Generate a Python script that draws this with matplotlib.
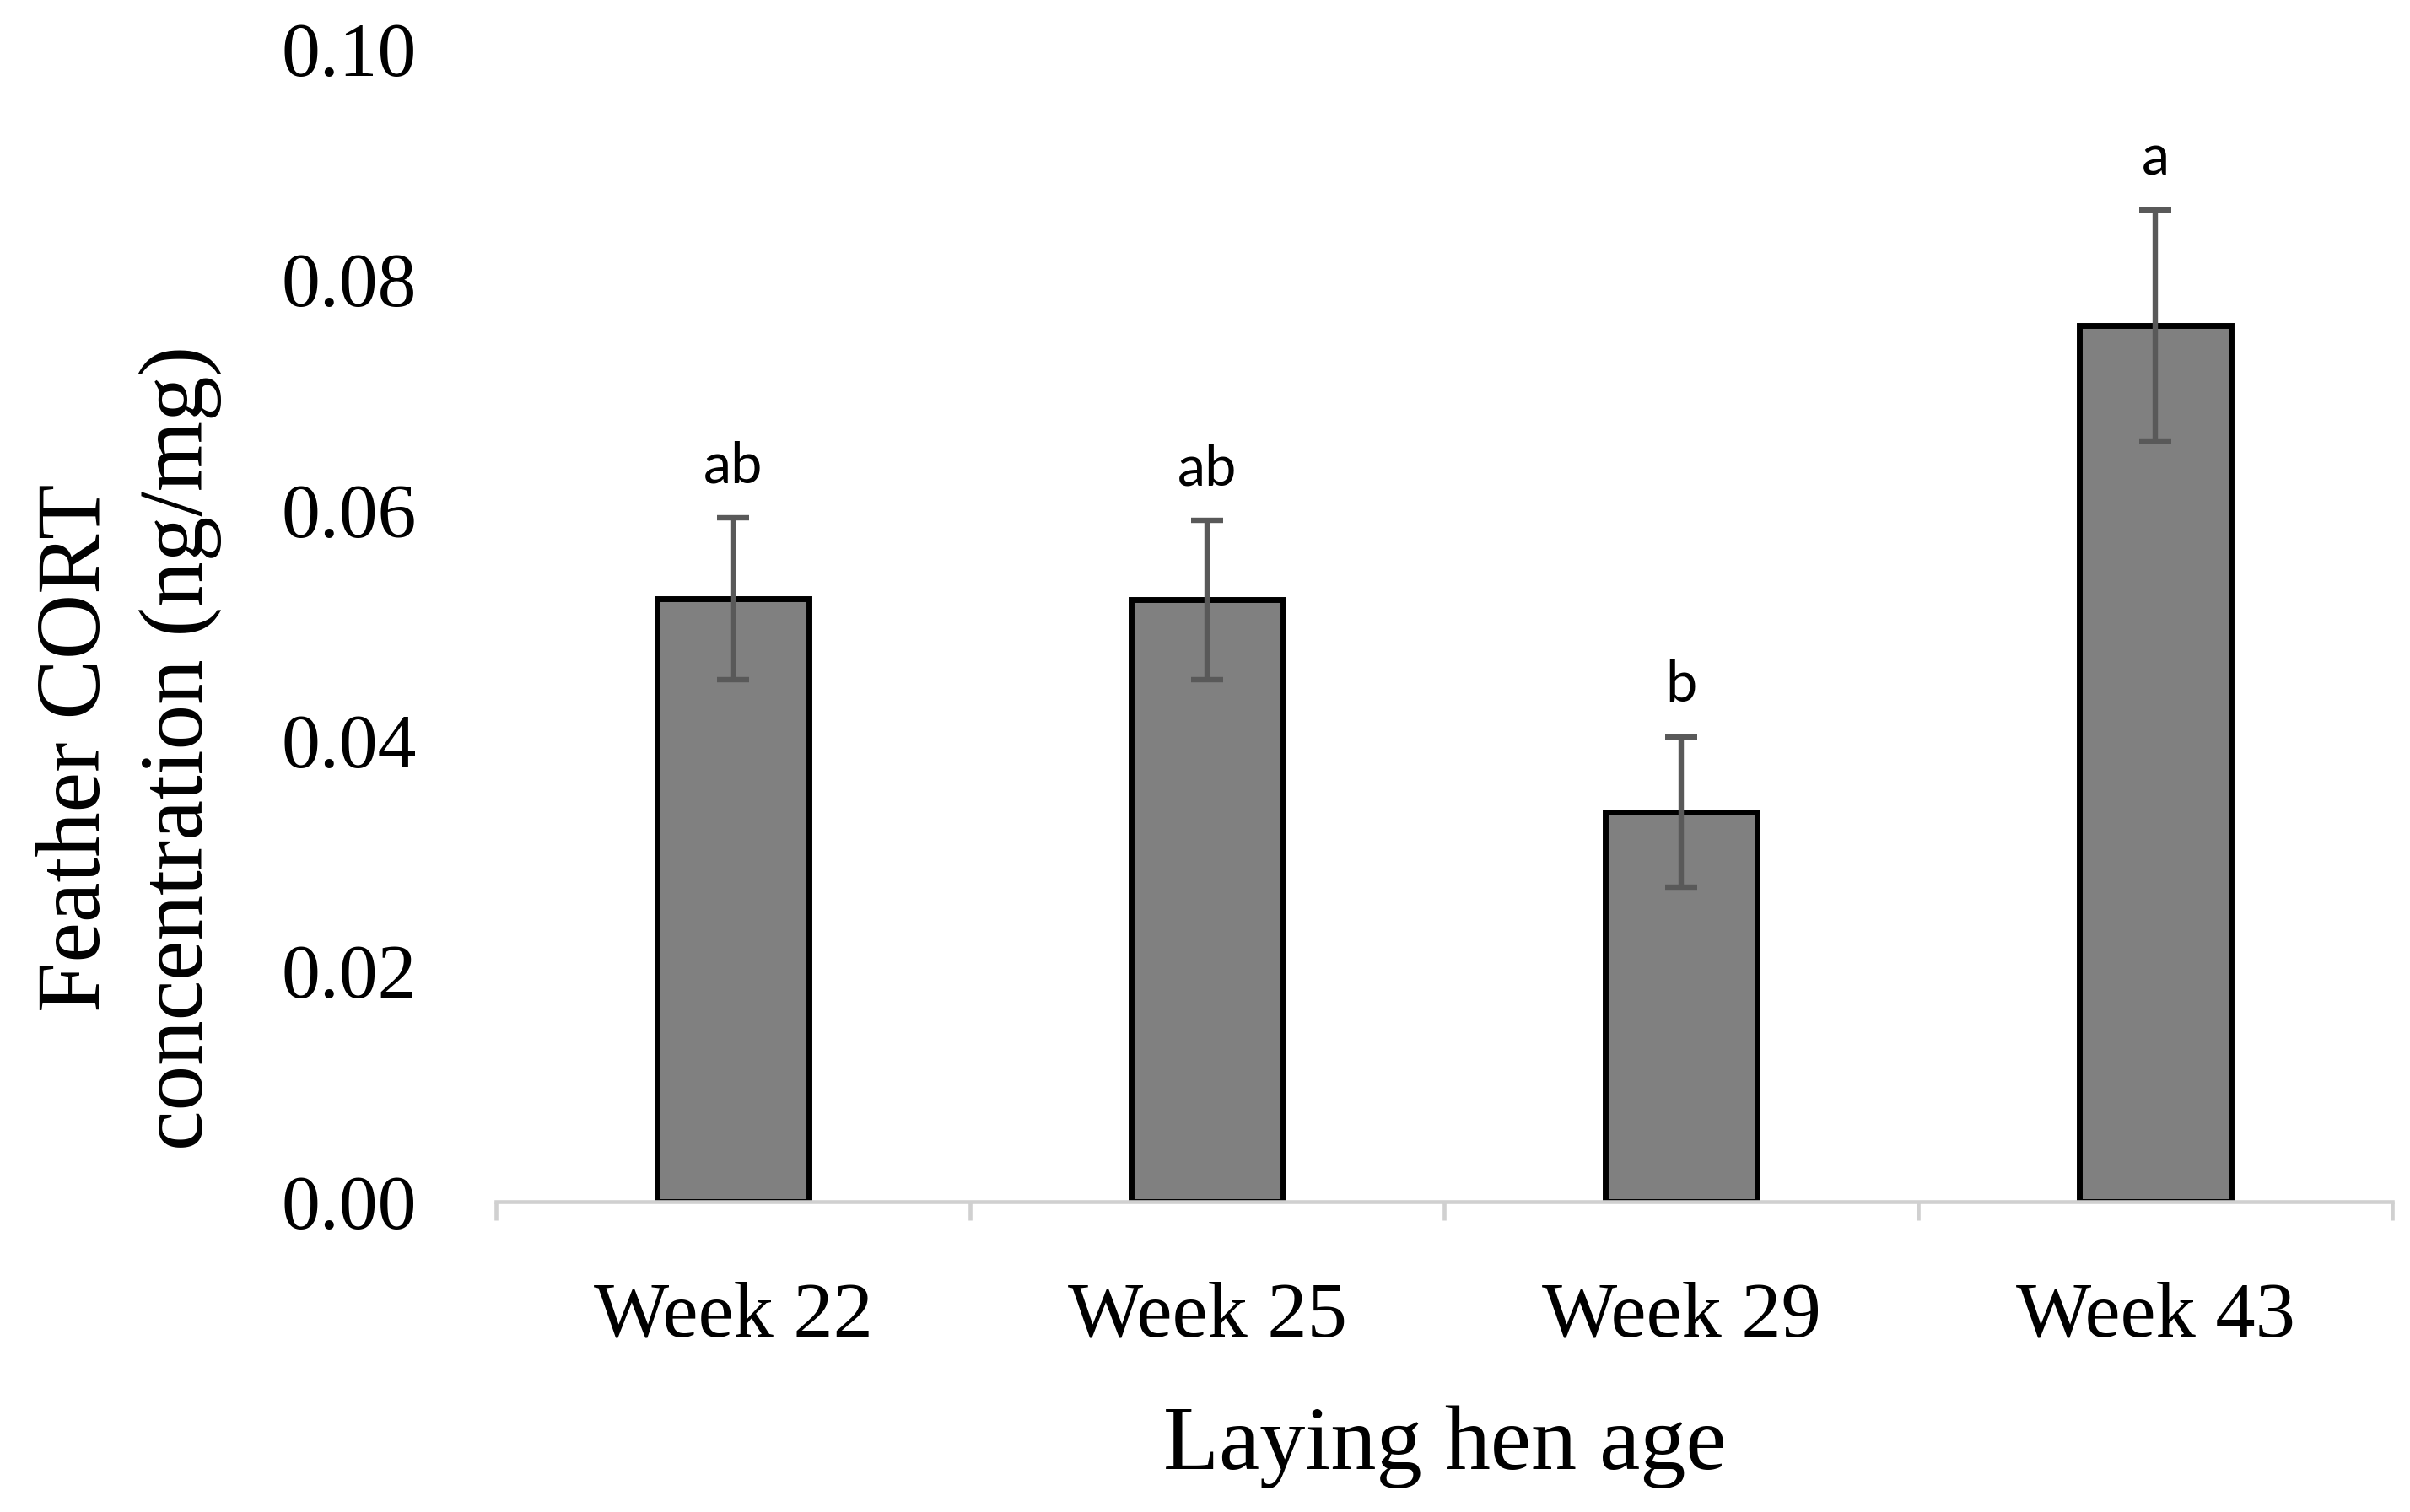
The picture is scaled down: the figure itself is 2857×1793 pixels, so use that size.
import matplotlib
matplotlib.use("Agg")
import matplotlib.pyplot as plt
import numpy as np

# feather CORT by hen age
weeks = ["Week 22", "Week 25", "Week 29", "Week 43"]
cort = [0.0523, 0.0522, 0.0338, 0.0760]
sem = [0.0070, 0.0069, 0.0065, 0.0100]
letters = ["ab", "ab", "b", "a"]

plt.rcParams['font.family'] = ['Liberation Serif', 'DejaVu Serif']

fig = plt.figure(figsize=(14.285, 8.965), dpi=200)
ax = fig.add_axes([0.2058, 0.2052, 0.787, 0.7625])

x = np.arange(len(weeks))
ax.bar(x, cort, width=0.32, color="#808080", edgecolor="black", linewidth=2.5, zorder=2)
ax.errorbar(x, cort, yerr=sem, fmt="none", ecolor="#595959", elinewidth=2.3,
            capsize=6.8, capthick=2.3, zorder=3)

for xi, v, e, t in zip(x, cort, sem, letters):
    ax.annotate(t, (xi, v + e), xytext=(0, 15), textcoords="offset points",
                ha="center", va="baseline", fontsize=24, family=["Lato", "DejaVu Sans"])

ax.set_xlim(-0.5, 3.5)
ax.set_ylim(0, 0.10)
ax.set_yticks([0, 0.02, 0.04, 0.06, 0.08, 0.10])
ax.set_yticklabels(["0.00", "0.02", "0.04", "0.06", "0.08", "0.10"], fontsize=33)
ax.tick_params(axis="y", length=0, pad=34)

ax.set_xticks(x)
ax.set_xticklabels(weeks, fontsize=34)
ax.tick_params(axis="x", which="major", length=0, pad=34)
ax.set_xticks(np.arange(-0.5, 4, 1), minor=True)
ax.tick_params(axis="x", which="minor", length=8, width=1.65, color="#d0d0d0", direction="out")

for s in ["left", "right", "top"]:
    ax.spines[s].set_visible(False)
ax.spines["bottom"].set_color("#d0d0d0")
ax.spines["bottom"].set_linewidth(1.65)

fig.text(153 / 2857, 1 - 887 / 1793, "Feather CORT\nconcentration (ng/mg)", rotation=90,
         ha="center", va="center", multialignment="center", fontsize=38.5, linespacing=1.32)
fig.text(1713 / 2857, 1 - 1716 / 1793, "Laying hen age", ha="center", va="center", fontsize=39)

fig.savefig("out.png", dpi=200)
